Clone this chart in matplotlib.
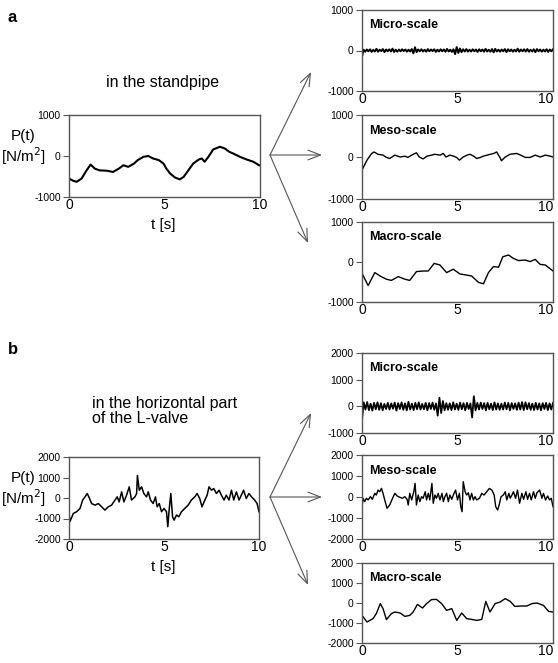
import numpy as np
import matplotlib
matplotlib.use('Agg')
import matplotlib.pyplot as plt

plt.rcParams['font.family'] = ['Liberation Sans', 'DejaVu Sans']

# ---- data ----
# (a) standpipe, raw signal
ta = [0, 0.2, 0.4, 0.66, 0.92, 1.13, 1.36, 1.6, 2.0, 2.3, 2.6, 2.85, 3.1, 3.4, 3.6, 3.9,
      4.15, 4.4, 4.7, 4.95, 5.1, 5.3, 5.55, 5.8, 6.0, 6.25, 6.5, 6.8, 6.95, 7.1, 7.3, 7.55,
      7.9, 8.15, 8.4, 8.6, 8.95, 9.3, 9.65, 9.95]
pa = [-550, -600, -630, -550, -350, -210, -310, -350, -360, -390, -310, -225, -265, -185, -100, -20,
      0, -60, -100, -185, -310, -430, -525, -570, -510, -350, -185, -85, -60, -140, -20, 160,
      225, 185, 100, 60, -20, -85, -140, -225]

micro_a = [-150, 20, -30, 25, -20, 30, -35, 15, -25, 40, -30, 20, -15, 35, -40, 25, -20, 30, -25, 45,
           -35, 20, -30, 25, -20, 30, -15, 25, -30, 20, -25, 35, -70, 80, -40, 25, -20, 30, -25, 20,
           -30, 35, -20, 25, -15, 30, -35, 20, -25, 30, -20, 25, -30, 40, -25, 20, -35, 30, -90, 85,
           -60, 50, -40, 30, -25, 35, -30, 20, -25, 30, -20, 25, -35, 30, -20, 25, -30, 40, -25, 20,
           -30, 35, -45, 40, -25, 20, -30, 25, -20, 35, -40, 30, -20, 25, -30, 20, -25, 45, -30, 25,
           -20, 30, -25, 35, -30, 20, -25, 30, -40, 35, -20, 25, -30, 20, -25, 30, -35, 25, -20, 30]

t_meso_a = [0, 0.26, 0.5, 0.63, 0.84, 1.1, 1.28, 1.45, 1.72, 2.0, 2.25, 2.4, 2.6, 2.85, 3.0, 3.2,
            3.4, 3.65, 3.8, 4.1, 4.25, 4.4, 4.6, 4.8, 4.95, 5.1, 5.3, 5.5, 5.65, 5.85, 6.0, 6.2,
            6.35, 6.55, 6.9, 7.05, 7.25, 7.3, 7.5, 7.75, 8.1, 8.3, 8.55, 8.8, 9.07, 9.33, 9.6, 9.85, 10]
meso_a = [-310, -75, 80, 120, 65, 45, -10, -35, 45, 0, 20, -10, 45, 100, 0, -45,
          20, 45, 65, 45, 85, 0, 45, 20, -10, -75, 0, 45, 65, 20, -35, -10,
          20, 45, 85, 120, -35, -90, 0, 65, 85, 45, -10, -10, 45, 0, 45, 20, 0]

t_macro_a = [0, 0.32, 0.67, 1.0, 1.28, 1.54, 1.9, 2.24, 2.5, 2.85, 3.2, 3.47, 3.78, 4.08, 4.43, 4.78,
             5.13, 5.4, 5.74, 6.1, 6.36, 6.62, 6.88, 7.15, 7.37, 7.67, 7.93, 8.2, 8.55, 8.8, 9.07,
             9.33, 9.6, 10]
macro_a = [-280, -590, -265, -365, -430, -460, -365, -430, -460, -240, -225, -225, -35, -75, -265, -180,
           -300, -320, -350, -510, -545, -265, -115, -130, 130, 175, 90, 35, 50, 10, 65,
           -60, -75, -225]

# (b) horizontal part of the L-valve, raw signal
tb = [0, 0.05, 0.23, 0.4, 0.58, 0.72, 0.84, 0.96, 1.07, 1.19, 1.37, 1.54, 1.72, 1.89, 2.07, 2.24,
      2.42, 2.54, 2.64, 2.77, 2.89, 3.03, 3.17, 3.29, 3.47, 3.56, 3.6, 3.7, 3.82, 3.94, 4.08, 4.17,
      4.29, 4.43, 4.55, 4.64, 4.75, 4.87, 5.0, 5.13, 5.2, 5.27, 5.36, 5.45, 5.53, 5.66, 5.78, 5.92,
      6.09, 6.27, 6.44, 6.62, 6.74, 6.88, 7.0, 7.15, 7.27, 7.37, 7.5, 7.62, 7.76, 7.9, 8.02, 8.16,
      8.28, 8.42, 8.55, 8.67, 8.81, 8.95, 9.07, 9.19, 9.33, 9.47, 9.61, 9.77, 9.9, 10]
pb = [-750, -1150, -750, -670, -510, -100, 55, 220, 0, -270, -350, -270, -430, -590, -430, -350,
      -100, 55, -190, 300, -190, 140, 545, -100, 55, 220, 1100, 380, 545, 220, 55, 300,
      -100, -270, 55, -430, -270, -670, -510, -670, -1400, -590, 220, -915, -1080, -830, -915, -670,
      -510, -350, -100, 55, 220, -25, -430, -100, 140, 545, 380, 460, 220, 380, 140, -100,
      140, -100, 380, -100, 300, -100, 140, 380, -25, 220, 55, -100, -270, -670]

micro_b = [-500, 150, -120, 160, -140, 100, -160, 130, -110, 150, -130, 120, -150, 90, -100, 130,
           -120, 110, -90, 140, -160, 120, -100, 150, -130, 110, -150, 170, -120, 100, -140, 130,
           -110, 150, -120, 90, -110, 130, -150, 120, -100, 140, -130, 110, -350, 320, -250, 200,
           -150, 120, -130, 110, -140, 150, -120, 100, -130, 140, -110, 120, -150, 130, -100, 110,
           -420, 380, -150, 130, -120, 140, -100, 120, -150, 130, -110, 100, -140, 150, -120, 110,
           -130, 100, -120, 140, -110, 130, -150, 120, -100, 110, -130, 140, -120, 160, -140, 150,
           -110, 120, -130, 100, -140, 130, -120, 110, -150, 120, -100, 130, -140, 110, -120, 130]

t_meso_b = [0, 0.05, 0.14, 0.23, 0.32, 0.44, 0.54, 0.67, 0.75, 0.84, 0.93, 1.02, 1.1, 1.19, 1.31, 1.45,
            1.6, 1.72, 1.84, 1.98, 2.12, 2.24, 2.36, 2.42, 2.5, 2.6, 2.71, 2.78, 2.85, 2.94, 3.03, 3.12,
            3.2, 3.31, 3.38, 3.47, 3.55, 3.66, 3.73, 3.82, 3.9, 3.99, 4.08, 4.19, 4.26, 4.34, 4.43, 4.52,
            4.6, 4.7, 4.78, 4.9, 5.0, 5.1, 5.17, 5.24, 5.3, 5.4, 5.48, 5.57, 5.65, 5.74, 5.83, 5.92,
            6.0, 6.15, 6.27, 6.39, 6.53, 6.67, 6.8, 6.92, 7.0, 7.1, 7.18, 7.28, 7.4, 7.5, 7.58, 7.69,
            7.76, 7.85, 7.93, 8.04, 8.14, 8.25, 8.37, 8.46, 8.58, 8.67, 8.77, 8.86, 8.98, 9.07, 9.16, 9.3,
            9.42, 9.5, 9.61, 9.72, 9.82, 9.91, 10]
meso_b = [-540, -60, -220, -60, -140, 15, -110, 175, 95, 330, 250, 410, 175, -140, -540, -380,
          -60, 175, 50, -15, -60, 15, -110, -380, 175, -140, 250, 650, -380, 95, -220, 15,
          -60, 250, -140, 175, -140, 650, -300, 95, -60, 175, -140, 175, -220, 15, 175, -220,
          95, -110, 95, 330, -140, 175, -460, -700, 730, 250, 95, 200, -140, 175, -140, 15,
          -140, -60, 175, 95, 250, 410, 330, 95, -460, -620, -380, 15, 95, 250, -140, 175,
          -60, 95, 250, -60, 330, -300, 175, -110, 250, -110, 175, -140, 250, -60, 200, 330,
          -60, 175, -140, 50, -140, -60, -460]

t_macro_b = [0, 0.26, 0.58, 0.75, 0.96, 1.1, 1.28, 1.54, 1.72, 2.0, 2.24, 2.5, 2.68, 2.9, 3.17, 3.38,
             3.64, 3.9, 4.17, 4.43, 4.7, 4.96, 5.22, 5.48, 5.74, 6.0, 6.27, 6.48, 6.7, 6.97, 7.23,
             7.5, 7.76, 8.0, 8.28, 8.63, 8.9, 9.16, 9.5, 9.77, 10]
macro_b = [-620, -950, -780, -530, -30, -280, -830, -530, -450, -500, -670, -620, -450, -70, -250, -30,
           170, 180, -30, -370, -280, -870, -500, -780, -820, -870, -820, 80, -450, -30, 50,
           220, 80, -170, -150, -150, -30, 0, -120, -420, -450]

# ---- layout (pixel boxes: left, top, right, bottom) ----
W, H = 558, 663
fig = plt.figure(figsize=(W / 100, H / 100), dpi=100)


def box(x0, y0, x1, y1):
    return [x0 / W, 1 - y1 / H, (x1 - x0) / W, (y1 - y0) / H]


frame_col = '#555555'


def make_ax(rect, ylim, yticks, label=None):
    ax = fig.add_axes(box(*rect))
    ax.set_xlim(0, 10)
    ax.set_ylim(*ylim)
    ax.set_xticks([0, 5, 10])
    ax.set_yticks(yticks)
    ax.set_yticklabels([str(v) for v in yticks])
    ax.tick_params(axis='x', length=0, pad=1, labelsize=10)
    ax.tick_params(axis='y', length=4, width=0.8, color=frame_col, pad=2, labelsize=7.5)
    for s in ax.spines.values():
        s.set_color(frame_col)
        s.set_linewidth(1.0)
    if label:
        # right-hand panels touch the figure edge, so the last "10" sits inside
        ax.get_xticklabels()[-1].set_horizontalalignment('right')
        ax.text(0.035, 1 - 15 / 81, label, transform=ax.transAxes, fontsize=9,
                fontweight='bold', va='center', ha='left')
    return ax


# panel a
ax = make_ax((69, 115, 260, 197), (-1000, 1000), [-1000, 0, 1000])
ax.plot(ta, pa, color='black', lw=1.5)

ax = make_ax((362, 10, 553, 91), (-1000, 1000), [-1000, 0, 1000], label='Micro-scale')
ax.plot(np.linspace(0, 10, len(micro_a)), micro_a, color='black', lw=1.4)

ax = make_ax((362, 115, 553, 199), (-1000, 1000), [-1000, 0, 1000], label='Meso-scale')
ax.plot(t_meso_a, meso_a, color='black', lw=1.0)

ax = make_ax((362, 222, 553, 302), (-1000, 1000), [-1000, 0, 1000], label='Macro-scale')
ax.plot(t_macro_a, macro_a, color='black', lw=1.0)

# panel b
ax = make_ax((69, 457, 259, 539), (-2000, 2000), [-2000, -1000, 0, 1000, 2000])
ax.plot(tb, pb, color='black', lw=1.1)

ax = make_ax((362, 353, 553, 433), (-1000, 2000), [-1000, 0, 1000, 2000], label='Micro-scale')
ax.plot(np.linspace(0, 10, len(micro_b)), micro_b, color='black', lw=1.3)

ax = make_ax((362, 455, 553, 539), (-2000, 2000), [-2000, -1000, 0, 1000, 2000], label='Meso-scale')
ax.plot(t_meso_b, meso_b, color='black', lw=1.0)

ax = make_ax((362, 563, 553, 643), (-2000, 2000), [-2000, -1000, 0, 1000, 2000], label='Macro-scale')
ax.plot(t_macro_b, macro_b, color='black', lw=1.0)

# ---- overlay for text and arrows (pixel coordinates) ----
ov = fig.add_axes([0, 0, 1, 1], zorder=-1)
ov.set_xlim(0, W)
ov.set_ylim(H, 0)
ov.axis('off')

ov.text(8, 18, 'a', fontsize=12, fontweight='bold', va='center', ha='left')
ov.text(8, 350, 'b', fontsize=12, fontweight='bold', va='center', ha='left')
ov.text(163, 83, 'in the standpipe', fontsize=11.5, ha='center', va='center')
ov.text(92, 411, 'in the horizontal part\nof the L-valve', fontsize=11.5, ha='left',
        va='center', linespacing=1.05)
for yc in (156, 498):
    ov.text(23, yc - 20, 'P(t)', fontsize=11, ha='center', va='center')
    ov.text(23, yc, '[N/m$^2$]', fontsize=11, ha='center', va='center')
ov.text(163, 225, 't [s]', fontsize=11, ha='center', va='center')
ov.text(163, 567, 't [s]', fontsize=11, ha='center', va='center')

arrow_kw = dict(arrowstyle='->,head_length=0.9,head_width=0.35', color='#555555', lw=0.8,
                shrinkA=0, shrinkB=0)
for (ox, oy), tips in [((270, 155), [(311, 72), (322, 155), (308, 243)]),
                       ((270, 497), [(311, 413), (322, 497), (308, 585)])]:
    for tx, ty in tips:
        ov.annotate('', xy=(tx, ty), xytext=(ox, oy), arrowprops=arrow_kw)

fig.savefig('out.png', dpi=100)
